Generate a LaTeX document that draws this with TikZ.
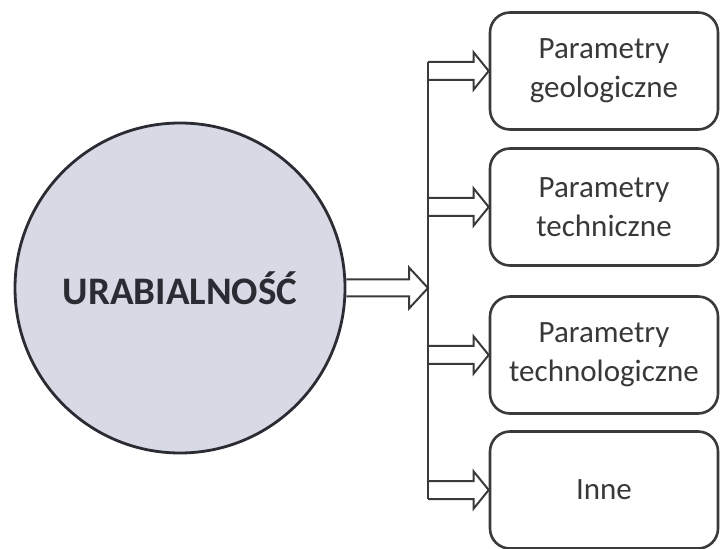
\documentclass[tikz,border=0pt]{standalone}
\usepackage{fontspec}
\setmainfont{Carlito}
\usetikzlibrary{calc}

\definecolor{discfill}{HTML}{D7D9E5}
\definecolor{discline}{HTML}{2B2B33}
\definecolor{boxline}{HTML}{3A3A3A}
\definecolor{boxtext}{HTML}{383838}

\tikzset{
  disc/.style={circle, draw=discline, line width=1.4pt, fill=discfill,
    minimum size=165pt, inner sep=0pt, text=discline,
    font=\fontsize{19.5}{23}\selectfont\bfseries},
  param/.style={draw=boxline, line width=1.3pt, rounded corners=10pt,
    minimum width=114pt, minimum height=58.5pt, align=center, text=boxtext,
    font=\fontsize{15.5}{19.5}\selectfont},
  arrowline/.style={draw=boxline, line width=1pt, line join=miter}
}

% open double arrow: start, tip, shaft half, head half, head length
\newcommand{\hollowarrow}[5]{%
  \draw[arrowline] ($(#1)+(0,#3)$) -- ($(#2)+(-#5,#3)$) -- ($(#2)+(-#5,#4)$) -- (#2)
    -- ($(#2)+(-#5,-#4)$) -- ($(#2)+(-#5,-#3)$) -- ($(#1)+(0,-#3)$);}

\begin{document}
\begin{tikzpicture}[x=0.5pt, y=-0.5pt]
  \useasboundingbox (0,0) rectangle (721,549);

  \node[disc] (urab) at (180,288) {URABIALNOŚĆ};

  \node[param] (geo) at (604,71) {Parametry\\geologiczne};
  \node[param] (tech) at (604,207) {Parametry\\techniczne};
  \node[param] (techno) at (604,355) {Parametry\\technologiczne};
  \node[param] (inne) at (604,490) {Inne};

  \coordinate (bus) at (428,288);
  \coordinate (b1) at (bus |- geo.west);
  \coordinate (b2) at (bus |- tech.west);
  \coordinate (b3) at (bus |- techno.west);
  \coordinate (b4) at (bus |- inne.west);

  \hollowarrow{urab.east}{bus}{8.5}{20.5}{19}
  \draw[arrowline] ($(b1)+(0,-9)$) -- ($(b4)+(0,9)$);
  \hollowarrow{b1}{geo.west}{9}{18.5}{15}
  \hollowarrow{b2}{tech.west}{9}{18.5}{15}
  \hollowarrow{b3}{techno.west}{9}{18.5}{15}
  \hollowarrow{b4}{inne.west}{9}{18.5}{15}
\end{tikzpicture}
\end{document}
